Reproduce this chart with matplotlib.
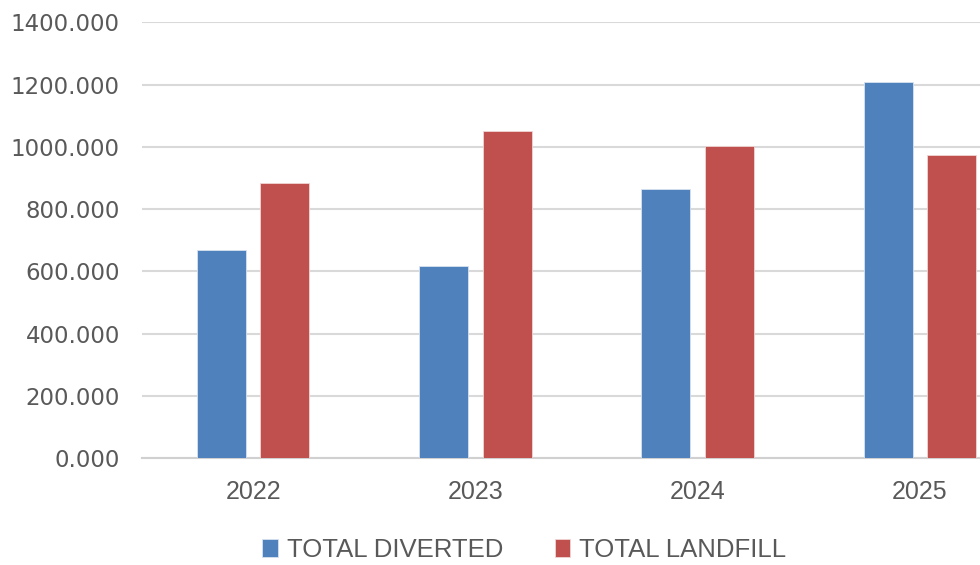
import numpy as np
import matplotlib.pyplot as plt
from matplotlib.ticker import FormatStrFormatter

# data
years = ['2022', '2023', '2024', '2025']
total_diverted = [668, 616, 863, 1208]
total_landfill = [883, 1051, 1003, 974]

blue = '#4F81BD'
red = '#C0504D'
grey = '#595959'

plt.rcParams['font.family'] = ['DejaVu Sans']

fig = plt.figure(figsize=(9.8, 5.65), dpi=100)
ax = fig.add_axes([0.1449, 0.1894, 0.8551, 0.7711])

x = np.arange(len(years))
w = 0.22
ax.bar(x - 0.143, total_diverted, w, color=blue, edgecolor='#D6E2F0', linewidth=0.6,
       label='TOTAL DIVERTED', zorder=3)
ax.bar(x + 0.143, total_landfill, w, color=red, edgecolor='#F0D6D5', linewidth=0.6,
       label='TOTAL LANDFILL', zorder=3)

ax.set_xlim(-0.5, 3.27)
ax.set_ylim(0, 1400)
ax.set_yticks(np.arange(0, 1401, 200))
ax.yaxis.set_major_formatter(FormatStrFormatter('%.3f'))
ax.set_xticks(x)
ax.set_xticklabels(years, family=['Liberation Sans Narrow', 'Liberation Sans'], fontsize=18)

ax.grid(axis='y', color='#D9D9D9', linewidth=1.5, zorder=0)
for s in ['top', 'right', 'left']:
    ax.spines[s].set_visible(False)
ax.spines['bottom'].set_color('#D0D0D0')
ax.spines['bottom'].set_linewidth(1.5)
ax.tick_params(axis='y', length=0, pad=16, labelsize=16.5, labelcolor=grey)
ax.tick_params(axis='x', length=0, pad=16, labelcolor=grey)

fig.legend(loc='center', bbox_to_anchor=(0.535, 0.027), ncol=2, frameon=False,
           prop={'family': ['Liberation Sans'], 'size': 18.5}, labelcolor=grey,
           handlelength=0.6, handleheight=0.7, handletextpad=0.35, columnspacing=2.0)

fig.savefig('out.png', dpi=100)
